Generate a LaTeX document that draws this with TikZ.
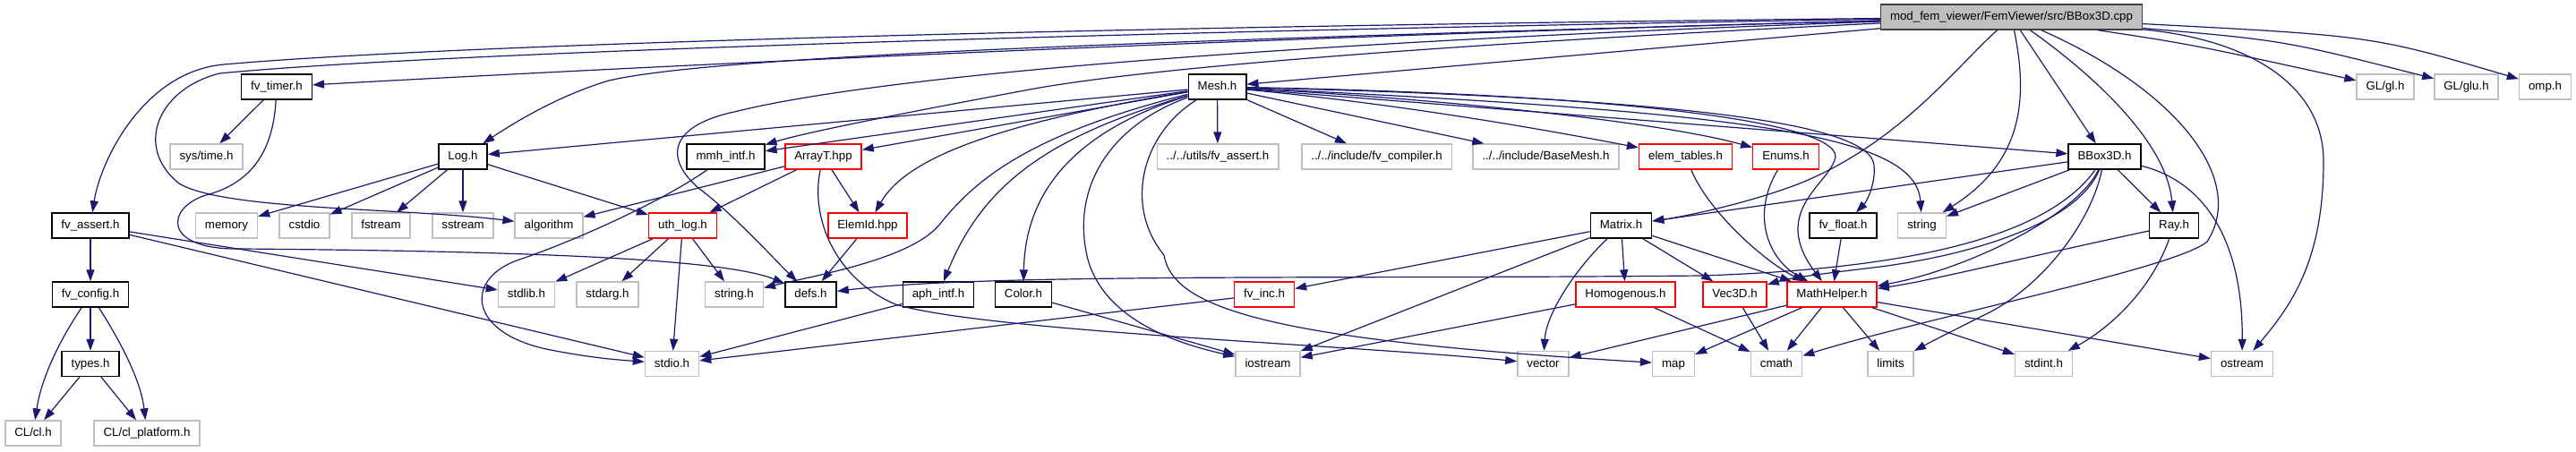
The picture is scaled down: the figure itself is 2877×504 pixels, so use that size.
\documentclass[tikz,border=0pt]{standalone}
\usepackage{fontspec}
\setmainfont{Liberation Sans}
\usepackage{tikz}
\usetikzlibrary{arrows.meta}
\definecolor{midnight}{HTML}{191970}
\definecolor{grey75}{HTML}{BFBFBF}

\begin{document}
\begin{tikzpicture}[x=1pt,y=-1pt,
  doc/.style={draw=black,line width=1.4pt,fill=white,minimum height=28pt,inner xsep=10.5pt,inner ysep=0pt,
    text height=10pt,text depth=3pt,font=\fontsize{13.3}{16}\selectfont},
  sys/.style={doc,draw=grey75},
  trunc/.style={doc,draw=red},
  root/.style={doc,draw=black!75,fill=grey75},
  dep/.style={draw=midnight,line width=1.2pt,-{Triangle[length=13pt,width=9pt]}}]
\useasboundingbox (0,0) rectangle (2877,504);

\node[root] (cpp) at (2246.5,19) {mod\_fem\_viewer/FemViewer/src/BBox3D.cpp};

\node[doc] (timer) at (309,97) {fv\_timer.h};
\node[doc] (mesh) at (1359.5,97) {Mesh.h};
\node[sys] (gl) at (2664,97) {GL/gl.h};
\node[sys] (glu) at (2754.5,97) {GL/glu.h};
\node[sys] (omp) at (2842.5,97) {omp.h};

\node[sys] (systime) at (230.5,175) {sys/time.h};
\node[doc] (log) at (517,175) {Log.h};
\node[doc] (mmh) at (810.5,175) {mmh\_intf.h};
\node[trunc] (arrayt) at (919.5,175) {ArrayT.hpp};
\node[sys] (utilsassert) at (1360,175) {../../utils/fv\_assert.h};
\node[sys] (compiler) at (1537.5,175) {../../include/fv\_compiler.h};
\node[sys] (basemesh) at (1726.5,175) {../../include/BaseMesh.h};
\node[trunc] (elemtables) at (1882.5,175) {elem\_tables.h};
\node[trunc] (enums) at (1994.5,175) {Enums.h};
\node[doc] (bbox) at (2350.5,175) {BBox3D.h};

\node[doc] (fvassert) at (101,252) {fv\_assert.h};
\node[sys] (memory) at (253,252) {memory};
\node[sys] (cstdio) at (340,252) {cstdio};
\node[sys] (fstream) at (425.5,252) {fstream};
\node[sys] (sstream) at (517,252) {sstream};
\node[sys] (algorithm) at (613,252) {algorithm};
\node[trunc] (uthlog) at (762.5,252) {uth\_log.h};
\node[trunc] (elemid) at (969,252) {ElemId.hpp};
\node[doc] (matrix) at (1810.5,252) {Matrix.h};
\node[doc] (fvfloat) at (2058.5,252) {fv\_float.h};
\node[sys] (string) at (2146.5,252) {string};
\node[doc] (ray) at (2428,252) {Ray.h};

\node[doc] (fvconfig) at (101,329) {fv\_config.h};
\node[sys] (stdlib) at (588,329) {stdlib.h};
\node[sys] (stdarg) at (678.5,329) {stdarg.h};
\node[sys] (stringh) at (820,329) {string.h};
\node[doc] (defs) at (905.5,329) {defs.h};
\node[doc] (aphintf) at (1048,329) {aph\_intf.h};
\node[doc] (color) at (1143,329) {Color.h};
\node[trunc] (fvinc) at (1412,329) {fv\_inc.h};
\node[trunc] (homog) at (1815.5,329) {Homogenous.h};
\node[trunc] (vecd) at (1937.5,329) {Vec3D.h};
\node[trunc] (mathhelper) at (2046,329) {MathHelper.h};

\node[doc] (types) at (101,406.5) {types.h};
\node[sys] (stdio) at (750.5,406.5) {stdio.h};
\node[sys] (iostream) at (1416,406.5) {iostream};
\node[sys] (vector) at (1723.5,406.5) {vector};
\node[sys] (map) at (1869,406.5) {map};
\node[sys] (cmath) at (1984,406.5) {cmath};
\node[sys] (limits) at (2111.5,406.5) {limits};
\node[sys] (stdint) at (2282.5,406.5) {stdint.h};
\node[sys] (ostream) at (2504,406.5) {ostream};

\node[sys] (clh) at (37,484) {CL/cl.h};
\node[sys] (clplatform) at (164,484) {CL/cl\_platform.h};

\draw[dep] (cpp) .. controls (1200,30) and (500,50) .. (250,72) .. controls (160,80) and (112,180) .. (fvassert);
\draw[dep] (cpp) .. controls (1200,36) and (470,60) .. (245,82) .. controls (175,100) and (150,165) .. (200,205) .. controls (250,235) and (450,232) .. (algorithm);
\draw[dep] (cpp) .. controls (1400,42) and (800,70) .. (timer);
\draw[dep] (cpp) .. controls (1300,45) and (800,62) .. (680,90) .. controls (620,108) and (570,140) .. (log);
\draw[dep] (cpp) -- (mesh);
\draw[dep] (cpp) .. controls (1700,45) and (1300,72) .. (1150,100) .. controls (1000,128) and (900,148) .. (mmh);
\draw[dep] (cpp) .. controls (1500,45) and (1000,80) .. (820,125) .. controls (750,140) and (740,175) .. (780,210) .. controls (820,240) and (865,290) .. (defs);
\draw[dep] (cpp) .. controls (2180,80) and (2120,160) .. (2010,205) .. controls (1950,228) and (1880,242) .. (matrix);
\draw[dep] (cpp) .. controls (2265,110) and (2260,180) .. (string);
\draw[dep] (cpp) -- (bbox);
\draw[dep] (cpp) .. controls (2340,85) and (2420,160) .. (ray);
\draw[dep] (cpp) .. controls (2430,100) and (2510,200) .. (2465,270) .. controls (2430,300) and (2150,355) .. (cmath);
\draw[dep] (cpp) .. controls (2520,45) and (2595,100) .. (2595,180) .. controls (2595,290) and (2560,340) .. (ostream);
\draw[dep] (cpp) .. controls (2450,50) .. (gl);
\draw[dep] (cpp) .. controls (2550,45) .. (glu);
\draw[dep] (cpp) .. controls (2650,40) .. (omp);

\draw[dep] (timer) -- (systime);
\draw[dep] (timer) .. controls (305,170) and (280,205) .. (230,218) .. controls (185,232) and (180,280) .. (270,278) .. controls (500,280) and (800,285) .. (defs);

\draw[dep] (mesh) -- (log);
\draw[dep] (mesh) -- (mmh);
\draw[dep] (mesh) -- (arrayt);
\draw[dep] (mesh) .. controls (1100,140) and (1010,180) .. (elemid);
\draw[dep] (mesh) .. controls (1150,150) and (1090,200) .. (1050,250) .. controls (1020,288) and (920,306) .. (stringh);
\draw[dep] (mesh) .. controls (1180,150) and (1100,200) .. (aphintf);
\draw[dep] (mesh) .. controls (1220,140) and (1145,200) .. (color);
\draw[dep] (mesh) .. controls (1240,140) and (1195,210) .. (1215,290) .. controls (1235,360) and (1320,385) .. (iostream);
\draw[dep] (mesh) .. controls (1275,150) and (1255,230) .. (1300,285) .. controls (1310,345) and (1420,380) .. (map);
\draw[dep] (mesh) -- (utilsassert);
\draw[dep] (mesh) -- (compiler);
\draw[dep] (mesh) -- (basemesh);
\draw[dep] (mesh) .. controls (1550,115) and (1700,140) .. (elemtables);
\draw[dep] (mesh) .. controls (1600,110) and (1850,135) .. (enums);
\draw[dep] (mesh) -- (bbox);
\draw[dep] (mesh) .. controls (1800,105) and (2050,135) .. (2050,175) .. controls (2045,205) and (1975,235) .. (mathhelper);
\draw[dep] (mesh) .. controls (1900,110) and (2090,140) .. (2093,185) .. controls (2095,205) and (2085,225) .. (fvfloat);
\draw[dep] (mesh) .. controls (1950,125) and (2140,150) .. (string);

\draw[dep] (log) -- (memory);
\draw[dep] (log) -- (cstdio);
\draw[dep] (log) -- (fstream);
\draw[dep] (log) -- (sstream);
\draw[dep] (log) -- (uthlog);

\draw[dep] (mmh) .. controls (740,225) and (640,270) .. (580,290) .. controls (520,310) and (520,370) .. (610,390) .. controls (660,400) and (690,402) .. (stdio);

\draw[dep] (arrayt) -- (algorithm);
\draw[dep] (arrayt) -- (uthlog);
\draw[dep] (arrayt) -- (elemid);
\draw[dep] (arrayt) .. controls (905,240) and (930,310) .. (1000,340) .. controls (1100,370) and (1500,385) .. (vector);

\draw[dep] (uthlog) -- (stdlib);
\draw[dep] (uthlog) -- (stdarg);
\draw[dep] (uthlog) -- (stringh);
\draw[dep] (uthlog) -- (stdio);
\draw[dep] (elemid) -- (defs);

\draw[dep] (fvassert) -- (fvconfig);
\draw[dep] (fvassert) -- (stdlib);
\draw[dep] (fvassert) -- (stdio);
\draw[dep] (fvconfig) -- (types);
\draw[dep] (fvconfig) .. controls (60,390) and (45,430) .. (clh);
\draw[dep] (fvconfig) .. controls (140,390) and (158,430) .. (clplatform);
\draw[dep] (types) -- (clh);
\draw[dep] (types) -- (clplatform);

\draw[dep] (elemtables) .. controls (1910,240) and (1975,295) .. (mathhelper);
\draw[dep] (enums) .. controls (1955,240) and (1975,290) .. (mathhelper);
\draw[dep] (fvfloat) -- (mathhelper);

\draw[dep] (bbox) -- (matrix);
\draw[dep] (bbox) -- (string);
\draw[dep] (bbox) .. controls (2290,260) and (2150,300) .. (1900,308) .. controls (1500,312) and (1100,305) .. (defs);
\draw[dep] (bbox) .. controls (2320,250) and (2200,285) .. (2100,298) .. controls (2050,304) and (2000,310) .. (vecd);
\draw[dep] (bbox) .. controls (2320,240) and (2200,300) .. (mathhelper);
\draw[dep] (bbox) .. controls (2335,250) and (2280,320) .. (2220,350) .. controls (2190,365) and (2160,380) .. (limits);
\draw[dep] (bbox) -- (ray);
\draw[dep] (bbox) .. controls (2470,205) and (2505,280) .. (ostream);
\draw[dep] (ray) .. controls (2250,290) and (2150,315) .. (mathhelper);
\draw[dep] (ray) .. controls (2400,330) and (2350,370) .. (stdint);

\draw[dep] (matrix) -- (fvinc);
\draw[dep] (matrix) -- (iostream);
\draw[dep] (matrix) .. controls (1760,300) and (1727,350) .. (vector);
\draw[dep] (matrix) -- (homog);
\draw[dep] (matrix) -- (vecd);
\draw[dep] (matrix) -- (mathhelper);

\draw[dep] (aphintf) -- (stdio);
\draw[dep] (color) -- (iostream);
\draw[dep] (fvinc) -- (stdio);
\draw[dep] (homog) -- (iostream);
\draw[dep] (homog) -- (cmath);
\draw[dep] (vecd) -- (cmath);

\draw[dep] (mathhelper) -- (vector);
\draw[dep] (mathhelper) -- (map);
\draw[dep] (mathhelper) -- (cmath);
\draw[dep] (mathhelper) -- (limits);
\draw[dep] (mathhelper) -- (stdint);
\draw[dep] (mathhelper) -- (ostream);

\end{tikzpicture}
\end{document}
